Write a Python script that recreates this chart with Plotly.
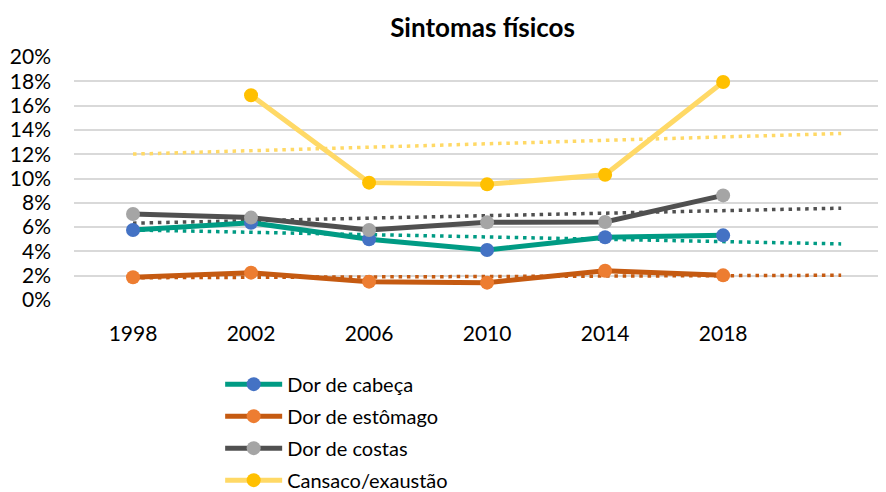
import numpy as np
import plotly.graph_objects as go

years = ["1998", "2002", "2006", "2010", "2014", "2018"]
dor_cabeca = [0.0576, 0.0636, 0.0500, 0.0411, 0.0516, 0.0532]
dor_estomago = [0.0187, 0.0225, 0.0151, 0.0143, 0.0241, 0.0203]
dor_costas = [0.0708, 0.0678, 0.0576, 0.0639, 0.0642, 0.0861]
cansaco = [None, 0.1685, 0.0966, 0.0952, 0.1031, 0.1794]

series = [
    ("Dor de cabeça", dor_cabeca, "#009B84", "#4472C4"),
    ("Dor de estômago", dor_estomago, "#C55A11", "#ED7D31"),
    ("Dor de costas", dor_costas, "#505050", "#A5A5A5"),
    ("Cansaco/exaustão", cansaco, "#FFD966", "#FFC000"),
]

FONT = "Lato"
xpos = list(range(1, len(years) + 1))
fig = go.Figure()

# trendlines (linear fit, forecast forward one period)
for name, vals, lc, mc in series:
    xs = np.array([x for x, v in zip(xpos, vals) if v is not None], dtype=float)
    ys = np.array([v for v in vals if v is not None], dtype=float)
    m, b = np.polyfit(xs, ys, 1)
    tx = [1, len(years) + 1]
    fig.add_trace(go.Scatter(
        x=tx, y=[m * t + b for t in tx], mode="lines",
        line=dict(color=lc, width=3.5, dash="3.5px,4.8px"),
        showlegend=False, hoverinfo="skip", legendgroup=name,
    ))

for name, vals, lc, mc in series:
    fig.add_trace(go.Scatter(
        x=xpos, y=vals, mode="lines+markers", name=name, legendgroup=name,
        line=dict(color=lc, width=5),
        marker=dict(color=mc, size=14),
    ))

fig.update_layout(
    width=886, height=492,
    margin=dict(l=66, r=8, t=49, b=200, autoexpand=False),
    paper_bgcolor="white", plot_bgcolor="white",
    font=dict(family=FONT, size=20, color="#000000"),
    title=dict(text="<b>Sintomas físicos</b>", x=0.5356, xanchor="center",
               y=0.959, yanchor="middle", font=dict(family=FONT, size=26, color="#000")),
    xaxis=dict(range=[0.5, 7.38], tickvals=xpos, ticktext=years, showgrid=False,
               zeroline=False, showline=False, ticks="", ticklabelstandoff=19,
               tickfont=dict(size=21)),
    yaxis=dict(range=[0, 0.2], dtick=0.02, tickformat=".0%", showgrid=True,
               gridcolor="#D9D9D9", gridwidth=1.5, zeroline=False, showline=False,
               ticks="", ticklabelstandoff=22, tickfont=dict(size=21)),
    legend=dict(x=0.18, xanchor="left", y=-0.266, yanchor="top",
                traceorder="grouped", tracegroupgap=3, font=dict(size=20),
                bgcolor="rgba(0,0,0,0)", itemwidth=57),
    showlegend=True,
)

fig.write_html("out.html")
